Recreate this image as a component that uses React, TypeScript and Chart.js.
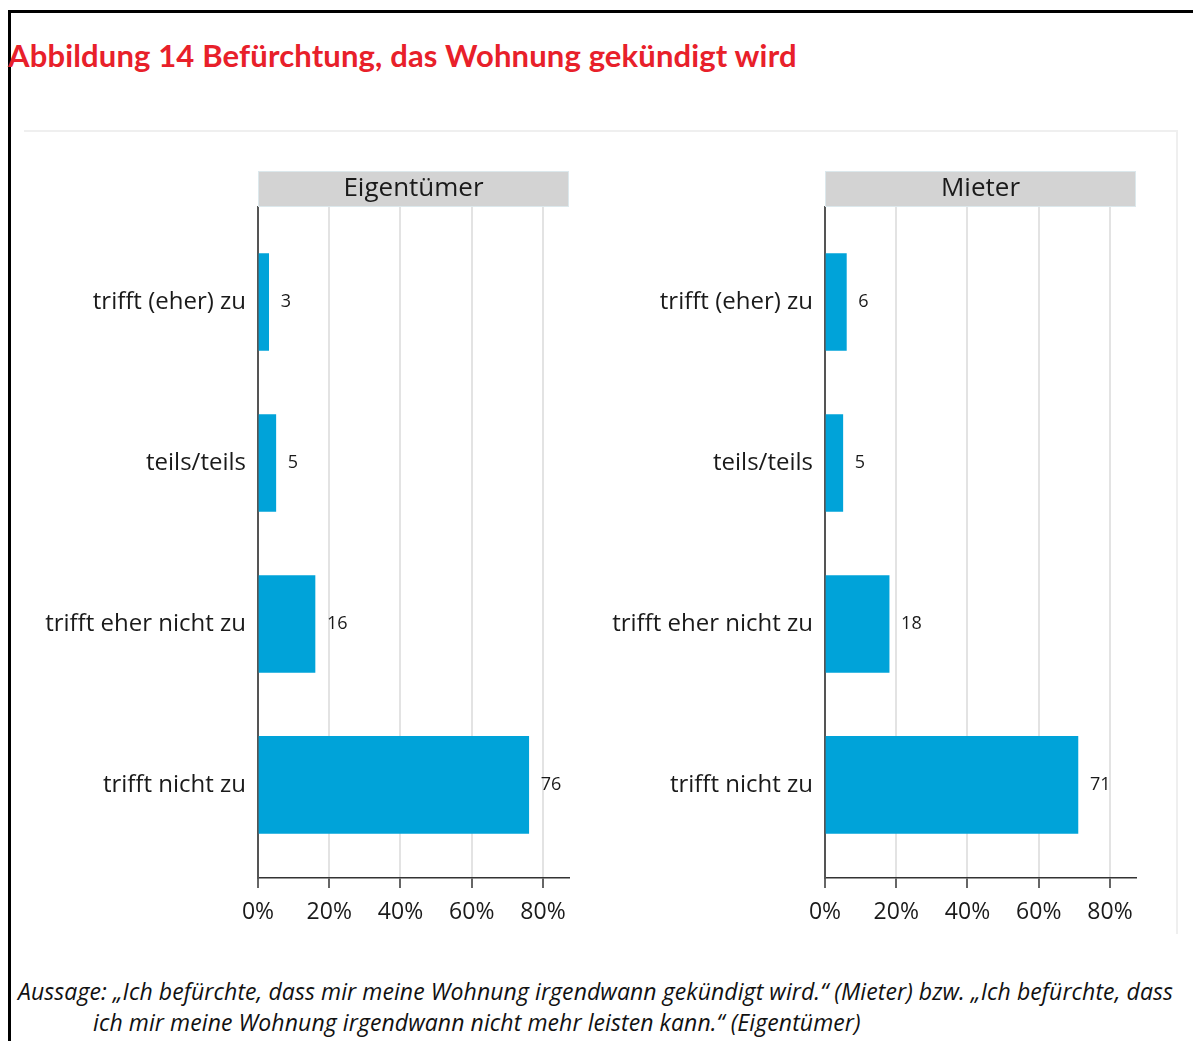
import React, { useEffect, useRef } from "react";
import { Chart, registerables } from "chart.js";

Chart.register(...registerables);

const categories = ["trifft (eher) zu", "teils/teils", "trifft eher nicht zu", "trifft nicht zu"];
const eigentuemerValues = [3, 5, 16, 76];
const mieterValues = [6, 5, 18, 71];
const xTickValues = [0, 20, 40, 60, 80];
const panelTitles = ["Eigentümer", "Mieter"];
const titleText = "Abbildung 14 Befürchtung, das Wohnung gekündigt wird";
const noteLine1 =
  "Aussage: „Ich befürchte, dass mir meine Wohnung irgendwann gekündigt wird.“ (Mieter) bzw. „Ich befürchte, dass";
const noteLine2 = "ich mir meine Wohnung irgendwann nicht mehr leisten kann.“ (Eigentümer)";

const FONT = "'Open Sans', sans-serif";
const BAR_COLOR = "#00a3d9";
const TEXT_COLOR = "#1a1a1a";

function Panel({ title, values, left }: { title: string; values: number[]; left: number }) {
  const ref = useRef<HTMLCanvasElement>(null);
  useEffect(() => {
    if (!ref.current) return;
    const stripPlugin = {
      id: "strip",
      afterDraw(chart: any) {
        const { ctx, chartArea } = chart;
        const h = 36;
        const w = chartArea.right - chartArea.left;
        ctx.save();
        ctx.fillStyle = "#d3d3d3";
        ctx.fillRect(chartArea.left, chartArea.top - h, w, h);
        ctx.strokeStyle = "#dce8ec";
        ctx.lineWidth = 1;
        ctx.strokeRect(chartArea.left + 0.5, chartArea.top - h + 0.5, w - 1, h - 1);
        ctx.fillStyle = TEXT_COLOR;
        ctx.font = `26px ${FONT}`;
        ctx.textAlign = "center";
        ctx.textBaseline = "middle";
        ctx.fillText(title, (chartArea.left + chartArea.right) / 2, chartArea.top - h / 2);
        const meta = chart.getDatasetMeta(0);
        ctx.font = `18px ${FONT}`;
        ctx.textAlign = "left";
        meta.data.forEach((bar: any, i: number) => {
          ctx.fillText(String(values[i]), bar.x + 12, bar.y);
        });
        ctx.restore();
      },
    };
    const chart = new Chart(ref.current, {
      type: "bar",
      data: {
        datasets: [
          {
            data: values.map((v, i) => ({ x: v, y: i })) as any,
            backgroundColor: BAR_COLOR,
            borderWidth: 0,
            barThickness: 97,
          },
        ],
      },
      options: {
        indexAxis: "y",
        animation: false,
        responsive: false,
        maintainAspectRatio: false,
        layout: { padding: { top: 57, right: 11, left: 0, bottom: 0 } },
        plugins: { legend: { display: false }, tooltip: { enabled: false } },
        scales: {
          x: {
            type: "linear",
            bounds: "data",
            offset: false,
            min: 0,
            max: 87.3,
            afterBuildTicks: (s: any) => {
              s.ticks = xTickValues.map((v) => ({ value: v }));
            },
            afterFit: (s: any) => {
              s.height = 62;
            },
            grid: {
              offset: false,
              color: (c: any) => (c.tick && c.tick.value === 0 ? "rgba(0,0,0,0)" : "#e3e3e3"),
              lineWidth: 2,
              tickColor: "#333",
              tickWidth: 1.5,
              tickLength: 10,
            },
            border: { display: true, color: "#333", width: 1.5 },
            ticks: {
              callback: (v: any) => v + "%",
              font: { family: FONT, size: 23 },
              color: TEXT_COLOR,
              padding: 11,
              maxRotation: 0,
            },
          },
          y: {
            type: "linear",
            bounds: "data",
            offset: false,
            min: -0.59,
            max: 3.578,
            reverse: true,
            afterBuildTicks: (s: any) => {
              s.ticks = categories.map((_, i) => ({ value: i }));
            },
            afterFit: (s: any) => {
              s.width = 238;
            },
            grid: { display: false, drawTicks: false, offset: false },
            border: { display: true, color: "#555", width: 2 },
            ticks: {
              callback: (v: any) => categories[v as number],
              font: { family: FONT, size: 24 },
              color: TEXT_COLOR,
              padding: 12,
            },
          },
        },
      },
      plugins: [stripPlugin],
    } as any);
    return () => chart.destroy();
  }, []);
  return (
    <canvas
      ref={ref}
      width={560}
      height={790}
      style={{ position: "absolute", left, top: 150, width: 560, height: 790 }}
    />
  );
}

export default function App() {
  return (
    <div
      style={{
        position: "absolute",
        left: 0,
        top: 0,
        width: 1193,
        height: 1041,
        background: "#fff",
        overflow: "hidden",
      }}
    >
      <div
        style={{
          position: "absolute",
          left: 8,
          top: 10,
          width: 1300,
          height: 1200,
          borderLeft: "3px solid #000",
          borderTop: "3px solid #000",
        }}
      />
      <div
        style={{
          position: "absolute",
          left: 24,
          top: 130,
          width: 1152,
          height: 802,
          borderTop: "2px solid #efefef",
          borderRight: "2px solid #efefef",
        }}
      />
      <div
        style={{
          position: "absolute",
          left: 8,
          top: 36,
          fontFamily: "Lato, sans-serif",
          fontWeight: 700,
          fontSize: 31,
          letterSpacing: "0.15px",
          lineHeight: "38px",
          color: "#e8202a",
          whiteSpace: "nowrap",
        }}
      >
        {titleText}
      </div>
      <Panel title={panelTitles[0]} values={eigentuemerValues} left={20} />
      <Panel title={panelTitles[1]} values={mieterValues} left={587} />
      <div
        style={{
          position: "absolute",
          left: 18,
          top: 976,
          fontFamily: "'Open Sans', sans-serif",
          fontStyle: "italic",
          fontSize: 23,
          letterSpacing: "0.09px",
          lineHeight: "31px",
          color: "#111",
          whiteSpace: "nowrap",
        }}
      >
        <div>{noteLine1}</div>
        <div style={{ paddingLeft: 75 }}>{noteLine2}</div>
      </div>
    </div>
  );
}
